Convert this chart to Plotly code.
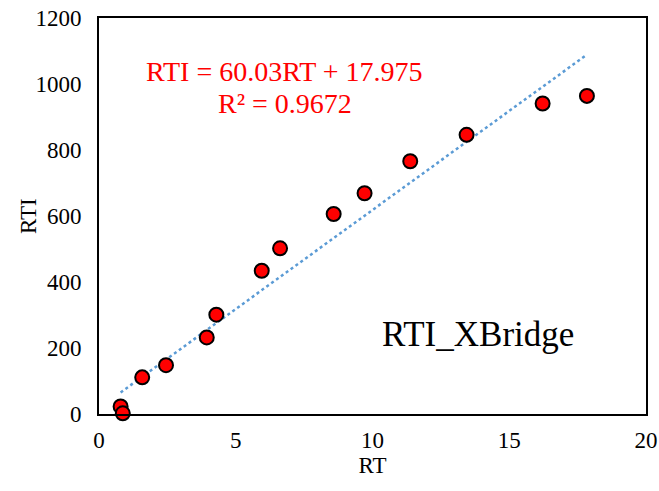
import plotly.graph_objects as go

# Retention time (min) and retention time index measured on the XBridge column
rt = [0.79, 0.87, 1.58, 2.45, 3.94, 4.29, 5.95, 6.62, 8.58, 9.71, 11.38, 13.44, 16.22, 17.84]
rti = [23, 2, 111, 148, 232, 301, 434, 502, 606, 669, 766, 846, 941, 964]

# Linear trendline parameters
slope = 60.03
intercept = 17.975
r2 = 0.9672

x_ticks = [0, 5, 10, 15, 20]
y_ticks = [0, 200, 400, 600, 800, 1000, 1200]

font_family = "Liberation Serif"

x_line = [min(rt), max(rt)]
y_line = [slope * v + intercept for v in x_line]

fig = go.Figure()
fig.add_trace(go.Scatter(
    x=x_line, y=y_line, mode="lines",
    line=dict(color="#5B9BD5", width=2.5, dash="dot"),
    hoverinfo="skip", showlegend=False,
))
fig.add_trace(go.Scatter(
    x=rt, y=rti, mode="markers",
    marker=dict(color="#FF0000", size=14, line=dict(color="black", width=2)),
    cliponaxis=False, showlegend=False,
))

# Trendline equation and coefficient of determination
red_font = dict(family=font_family, size=28, color="#FF0000")
fig.add_annotation(
    xref="paper", yref="paper", x=0.34, y=0.865, yanchor="middle",
    text=f"RTI = {slope:.2f}RT + {intercept:.3f}",
    showarrow=False, font=red_font,
)
fig.add_annotation(
    xref="paper", yref="paper", x=0.34, y=0.784, yanchor="middle",
    text=f"R² = {r2:.4f}",
    showarrow=False, font=red_font,
)
fig.add_annotation(
    xref="paper", yref="paper", x=0.693, y=0.202,
    xanchor="center", yanchor="middle",
    text="RTI_XBridge", showarrow=False,
    font=dict(family=font_family, size=35, color="black"),
)
# Y axis title
fig.add_annotation(
    xref="paper", yref="paper", x=-0.1298, y=0.5,
    xanchor="center", yanchor="middle", textangle=-90,
    text="RTI", showarrow=False,
    font=dict(family=font_family, size=23, color="black"),
)

axis_common = dict(
    showgrid=False, zeroline=False, showline=True, mirror=True,
    linecolor="black", linewidth=2, ticks="", automargin=False,
    tickfont=dict(family=font_family, size=23, color="black"),
)

fig.update_layout(
    width=659, height=491, autosize=False,
    margin=dict(l=99, r=13, t=18, b=77),
    paper_bgcolor="white", plot_bgcolor="white",
    xaxis=dict(range=[0, 20], tickvals=x_ticks, ticklabelstandoff=4,
               title=dict(text="RT", font=dict(family=font_family, size=23, color="black"), standoff=4),
               **axis_common),
    yaxis=dict(range=[0, 1200], tickvals=y_ticks, ticklabelstandoff=11,
               **axis_common),
)

fig.write_html("out.html")
